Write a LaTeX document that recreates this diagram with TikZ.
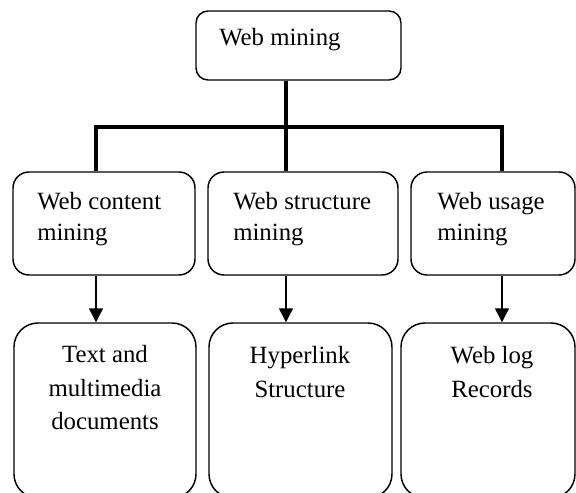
\documentclass[tikz,border=0pt]{standalone}
\usepackage{fontspec}
\setmainfont{Liberation Serif}
\usetikzlibrary{arrows.meta}
\begin{document}
\begin{tikzpicture}[x=0.75pt,y=-0.75pt,
  box/.style={draw=black,line width=1.1pt,rectangle,inner sep=0pt},
  topbox/.style={box,rounded corners=9pt,minimum height=51.75pt},
  midbox/.style={box,rounded corners=12pt,minimum height=77.25pt},
  lowbox/.style={box,rounded corners=18pt,minimum height=131.25pt},
  lbl/.style={inner sep=0pt,font=\fontsize{18.6pt}{22pt}\selectfont},
  lbll/.style={lbl,anchor=base west},
  lblc/.style={lbl,anchor=base},
  trunk/.style={draw=black,line width=2.6pt},
  arr/.style={draw=black,line width=1.1pt,-{Triangle[length=10.5pt,width=10.5pt]}}]
\useasboundingbox (0,0) rectangle (576,493);
\begin{scope}
\clip (0,0) rectangle (576,493);
% boxes
\node[topbox,minimum width=153.75pt] (top) at (298.5,45.5) {};
\node[midbox,minimum width=136.5pt] (m1) at (104,223.5) {};
\node[midbox,minimum width=142.5pt] (m2) at (303,223.5) {};
\node[midbox,minimum width=123pt] (m3) at (493,223.5) {};
\node[lowbox,minimum width=136.5pt] (d1) at (105,410.5) {};
\node[lowbox,minimum width=137.25pt] (d2) at (300.5,410.5) {};
\node[lowbox,minimum width=130.5pt] (d3) at (488,410.5) {};
% texts
\node[lbll] (ttop) at (219,45) {Web mining};
\node[lbll] (t1a) at (37,209) {Web content};
\node[lbll] (t1b) at (37,240) {mining};
\node[lbll] (t2a) at (233,209) {Web structure};
\node[lbll] (t2b) at (233,240) {mining};
\node[lbll] (t3a) at (437,209) {Web usage};
\node[lbll] (t3b) at (437,240) {mining};
\node[lblc] (u1a) at (105,362) {Text and};
\node[lblc] (u1b) at (105,396) {multimedia};
\node[lblc] (u1c) at (105,429) {documents};
\node[lblc] (u2a) at (300,363) {Hyperlink};
\node[lblc] (u2b) at (300,397) {Structure};
\node[lblc] (u3a) at (492,363) {Web log};
\node[lblc] (u3b) at (492,397) {Records};
% connectors
\coordinate (j1) at (96,127);
\coordinate (j2) at (286,127);
\coordinate (j3) at (502,127);
\draw[trunk] (top.south -| j2) -- (j2);
\draw[trunk] (j1 |- m1.north) -- (j1) -- (j3) -- (j3 |- m3.north);
\draw[trunk] (j2) -- (j2 |- m2.north);
\draw[arr] (j1 |- m1.south) -- (j1 |- d1.north);
\draw[arr] (j2 |- m2.south) -- (j2 |- d2.north);
\draw[arr] (j3 |- m3.south) -- (j3 |- d3.north);
\end{scope}
\end{tikzpicture}
\end{document}
